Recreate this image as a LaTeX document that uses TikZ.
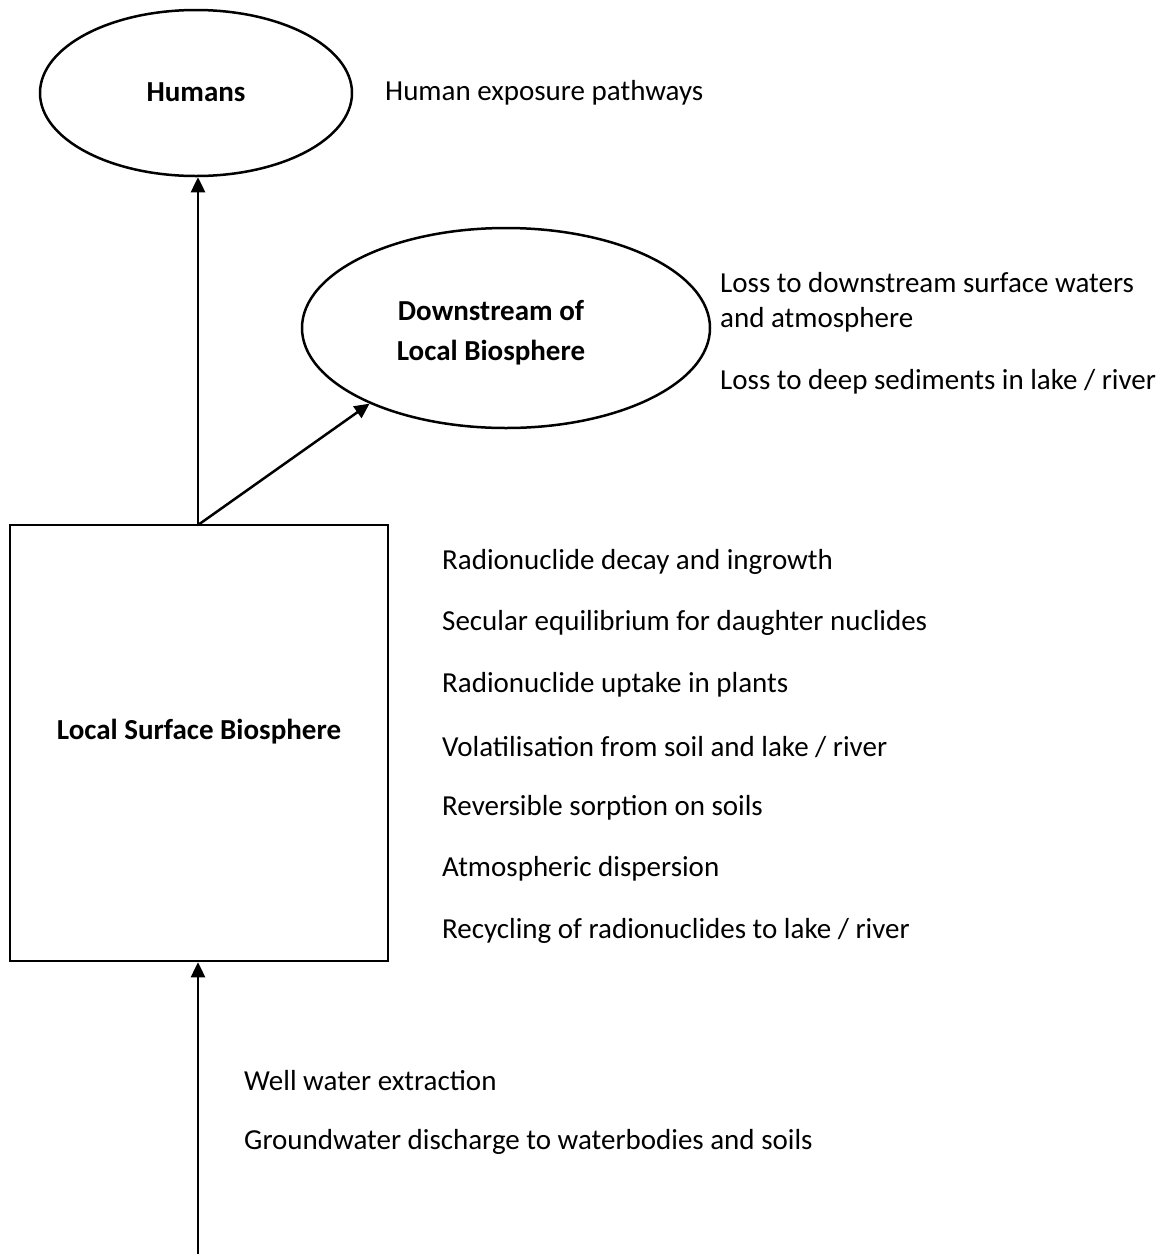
\documentclass[tikz,border=0pt]{standalone}
\usepackage{fontspec}
\setmainfont{Carlito}
\usetikzlibrary{arrows.meta,shapes.geometric}
\begin{document}
\begin{tikzpicture}[x=1pt,y=-1pt,
  every node/.style={font=\fontsize{29}{35}\selectfont},
  oval/.style={draw,line width=2.5pt,ellipse,inner sep=0pt},
  boxnode/.style={draw,line width=2.5pt,rectangle,inner sep=0pt},
  ttl/.style={font=\fontsize{29}{40}\selectfont\bfseries,align=center,inner sep=0pt},
  lbl/.style={anchor=west,inner sep=0pt,align=left,yshift=-2pt},
  flow/.style={line width=2.5pt,-{Triangle[length=15pt,width=14pt]}}]
\useasboundingbox (0,0) rectangle (1162,1254);
\node[oval,minimum width=312pt,minimum height=166pt,
  label={[ttl,yshift=1pt]center:Humans}] (humans) at (196,93) {};
\node[oval,minimum width=408pt,minimum height=200pt,
  label={[ttl,xshift=-15pt,yshift=-5pt]center:Downstream of\\Local Biosphere}] (down) at (506,328) {};
\node[boxnode,minimum width=378pt,minimum height=436pt,
  label={[ttl,yshift=11pt]center:Local Surface Biosphere}] (local) at (199,743) {};
\coordinate (src) at (198,1254);
\coordinate (top) at (198,525);
\draw[flow] (top) -- (top |- humans.south);
\draw[flow] (top) -- (down.209);
\draw[flow] (src) -- (src |- local.south);
\node[lbl] (t1) at (385,91) {Human exposure pathways};
\node[lbl] (t2) at (720,300) {Loss to downstream surface waters\\and atmosphere};
\node[lbl] (t3) at (720,380) {Loss to deep sediments in lake / river};
\node[lbl] (r1) at (442,560) {Radionuclide decay and ingrowth};
\node[lbl] (r2) at (442,621) {Secular equilibrium for daughter nuclides};
\node[lbl] (r3) at (442,683) {Radionuclide uptake in plants};
\node[lbl] (r4) at (442,745) {Volatilisation from soil and lake / river};
\node[lbl] (r5) at (442,806) {Reversible sorption on soils};
\node[lbl] (r6) at (442,867) {Atmospheric dispersion};
\node[lbl] (r7) at (442,929) {Recycling of radionuclides to lake / river};
\node[lbl] (b1) at (244,1079) {Well water extraction};
\node[lbl] (b2) at (244,1140) {Groundwater discharge to waterbodies and soils};
\end{tikzpicture}
\end{document}
